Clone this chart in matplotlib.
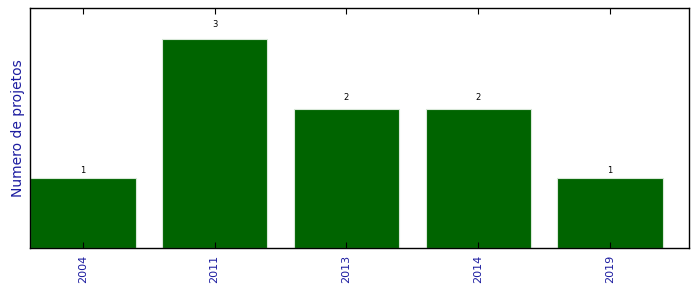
import matplotlib
matplotlib.use('Agg')
import matplotlib.pyplot as plt

anos = ['2004', '2011', '2013', '2014', '2019']
projetos = [1, 3, 2, 2, 1]

fig, ax = plt.subplots(figsize=(6.99, 2.92), dpi=100)
fig.subplots_adjust(left=0.043, right=0.986, top=0.973, bottom=0.151)

pos = range(len(anos))
barras = ax.bar(pos, projetos, width=0.8, color='#006400', edgecolor='#d8e8d8', linewidth=0.8)
for b, v in zip(barras, projetos):
    ax.text(b.get_x() + b.get_width() / 2, 1.05 * v, '%d' % v,
            ha='center', va='bottom', fontsize=6)

ax.set_xlim(-0.4, 4.6)
ax.set_ylim(0, 3.45)
ax.set_xticks(list(pos))
ax.set_xticklabels(anos, rotation=90, fontsize=8, color='#1c1ca0')
ax.tick_params(axis='x', direction='in', top=True, length=4, width=0.8, pad=5)
ax.set_yticks([])
ax.set_ylabel('Numero de projetos', fontsize=10, color='#1c1ca0')
for s in ax.spines.values():
    s.set_linewidth(1.0)

plt.savefig('out.png', dpi=100)
